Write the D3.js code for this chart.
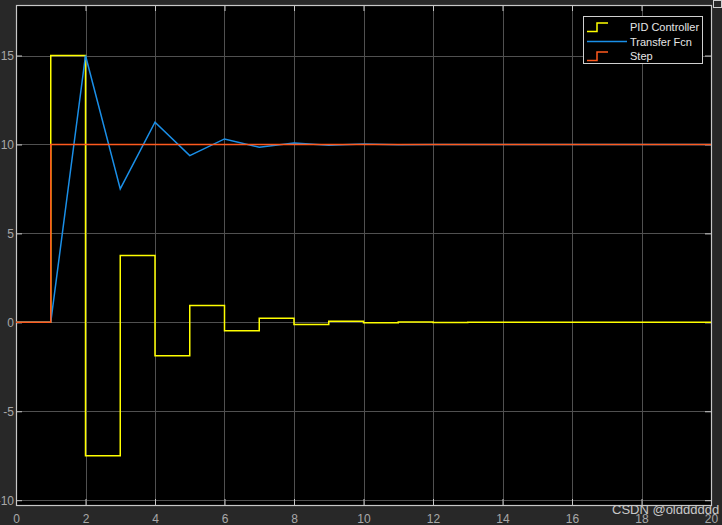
<!DOCTYPE html>
<html>
<head>
<meta charset="utf-8">
<script src="https://cdn.jsdelivr.net/npm/d3@7"></script>
<style>
  body { margin: 0; background: #282828; }
  svg { display: block; font-family: "Liberation Sans", Arial, sans-serif; }
</style>
</head>
<body>
<script>
// PID controller output (zero-order hold): value held from pidTimes[i] to pidTimes[i+1]
const pidTimes  = [0, 1, 2, 3, 4, 5, 6, 7, 8, 9, 10, 11, 12, 13, 14, 20];
const pidValues = [0, 15, -7.5, 3.75, -1.875, 0.94, -0.47, 0.23, -0.12, 0.06, -0.03, 0.015, -0.01, 0.005, 0];

// Transfer Fcn output (linear between samples)
const tfTimes  = [0, 1, 2, 3, 4, 5, 6, 7, 8, 9, 10, 11, 12, 14, 20];
const tfValues = [0, 0, 15, 7.5, 11.25, 9.375, 10.31, 9.84, 10.08, 9.96, 10.02, 9.99, 10.0, 10.0, 10.0];

// Step input
const stepTimes  = [0, 1, 20];
const stepValues = [0, 10];

const xTicks = [0, 2, 4, 6, 8, 10, 12, 14, 16, 18, 20];
const yTicks = [-10, -5, 0, 5, 10, 15];
const legendNames = ["PID Controller", "Transfer Fcn", "Step"];
const colors = ["#ffff00", "#1a8fe8", "#ff5a1e"];

const W = 722, H = 525;
const plot = { left: 16, top: 5, right: 711, bottom: 505 };

const svg = d3.select("body").append("svg")
    .attr("width", W)
    .attr("height", H);

svg.append("rect").attr("width", W).attr("height", H).attr("fill", "#282828");

const x = d3.scaleLinear().domain([0, 20]).range([plot.left, plot.right]);
const y = d3.scaleLinear().domain([-10.27, 17.84]).range([plot.bottom, plot.top]);

// plot area
svg.append("rect")
    .attr("x", plot.left).attr("y", plot.top)
    .attr("width", plot.right - plot.left).attr("height", plot.bottom - plot.top)
    .attr("fill", "#000");

// grid
const grid = svg.append("g").attr("stroke", "#505050").attr("stroke-width", 1);
grid.selectAll(".vx").data(xTicks.slice(1, -1)).join("line")
    .attr("x1", d => Math.round(x(d)) + 0.5).attr("x2", d => Math.round(x(d)) + 0.5)
    .attr("y1", plot.top).attr("y2", plot.bottom);
grid.selectAll(".hy").data(yTicks).join("line")
    .attr("y1", d => Math.round(y(d)) + 0.5).attr("y2", d => Math.round(y(d)) + 0.5)
    .attr("x1", plot.left).attr("x2", plot.right);

// axes via d3 (inward ticks)
const axisColor = "#c8c8c8";
const fmt = d => String(d); // plain hyphen minus like the original
function styleAxis(g) {
    g.select(".domain").remove();
    g.selectAll(".tick line").attr("stroke", axisColor);
    g.selectAll(".tick text").attr("fill", "#a8a8a8").style("font-size", "12px");
}
svg.append("g")
    .attr("transform", `translate(0,${plot.bottom})`)
    .call(d3.axisBottom(x).tickValues(xTicks).tickFormat(fmt).tickSizeInner(-6).tickSizeOuter(0).tickPadding(9))
    .call(styleAxis);
svg.append("g")
    .attr("transform", `translate(0,${plot.top})`)
    .call(d3.axisTop(x).tickValues(xTicks).tickSizeInner(-6).tickSizeOuter(0).tickFormat(""))
    .call(styleAxis);
svg.append("g")
    .attr("transform", `translate(${plot.left},0)`)
    .call(d3.axisLeft(y).tickValues(yTicks).tickFormat(fmt).tickSizeInner(-6).tickSizeOuter(0).tickPadding(2))
    .call(styleAxis);
svg.append("g")
    .attr("transform", `translate(${plot.right},0)`)
    .call(d3.axisRight(y).tickValues(yTicks).tickSizeInner(-6).tickSizeOuter(0).tickFormat(""))
    .call(styleAxis);

// box
svg.append("rect")
    .attr("x", plot.left + 0.5).attr("y", plot.top + 0.5)
    .attr("width", plot.right - plot.left).attr("height", plot.bottom - plot.top)
    .attr("fill", "none").attr("stroke", axisColor).attr("stroke-width", 1.2);

// series
const stepLine = d3.line().curve(d3.curveStepAfter).x(d => x(d.t)).y(d => y(d.v));
const linLine = d3.line().x(d => x(d.t)).y(d => y(d.v));

const stepData = stepTimes.map((t, i) => ({ t: t, v: stepValues[Math.min(i, stepValues.length - 1)] }));
const pidData = pidTimes.map((t, i) => ({ t: t, v: pidValues[Math.min(i, pidValues.length - 1)] }));
const tfData = tfTimes.map((t, i) => ({ t: t, v: tfValues[i] }));

svg.append("path").datum(pidData)
    .attr("fill", "none").attr("stroke", colors[0]).attr("stroke-width", 1.5)
    .attr("d", stepLine);
svg.append("path").datum(tfData)
    .attr("fill", "none").attr("stroke", colors[1]).attr("stroke-width", 1.5)
    .attr("d", linLine);
svg.append("path").datum(stepData)
    .attr("fill", "none").attr("stroke", colors[2]).attr("stroke-width", 1.5)
    .attr("d", stepLine);

// legend
const lg = svg.append("g").attr("transform", "translate(583,16)");
lg.append("rect").attr("x", 0.5).attr("y", 0.5).attr("width", 119).attr("height", 47)
    .attr("fill", "#000").attr("stroke", "#d0d0d0").attr("stroke-width", 1);
legendNames.forEach((name, i) => {
    const cy = 10 + i * 14.5;
    if (i === 1) {
        lg.append("line").attr("x1", 4).attr("x2", 44).attr("y1", cy + 1).attr("y2", cy + 1)
            .attr("stroke", colors[i]).attr("stroke-width", 1.5);
    } else {
        lg.append("path")
            .attr("d", `M4,${cy + 5.5}H14V${cy - 3}H25`)
            .attr("fill", "none").attr("stroke", colors[i]).attr("stroke-width", 1.5);
    }
    lg.append("text").attr("x", 47).attr("y", cy + 5)
        .attr("fill", "#e6e6e6").style("font-size", "11px").text(name);
});

// corner icon
svg.append("rect").attr("x", 713.5).attr("y", 0.5).attr("width", 8).attr("height", 7)
    .attr("fill", "#282828").attr("stroke", "#d0d0d0");

// watermark
svg.append("text").attr("x", 612).attr("y", 514)
    .attr("fill", "#c8c8c8").style("font-size", "13px").text("CSDN @oldddddd");
</script>
</body>
</html>
